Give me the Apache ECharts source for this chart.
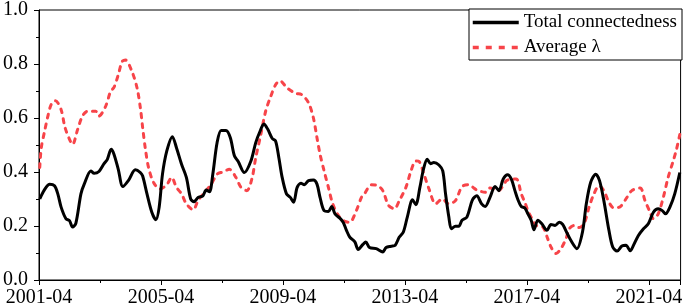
<!DOCTYPE html>
<html>
<head>
<meta charset="utf-8">
<script src="https://cdn.jsdelivr.net/npm/echarts@6/dist/echarts.min.js"></script>
<style>
html,body{margin:0;padding:0;background:#fff;}
#chart{width:685px;height:308px;}
</style>
</head>
<body>
<div id="chart"></div>
<script>
// months counted from 2001-04 (0 = 2001-04)
const startYear = 2001;
const xTickMonths = [0, 48, 96, 144, 192, 240];
const yTicks = [0.0, 0.2, 0.4, 0.6, 0.8, 1.0];
const seriesNames = ['Total connectedness', 'Average \u03bb'];

const totalConnectedness = [
[0.3,0.30],[4.2,0.355],[6.1,0.349],[7.4,0.319],[8.7,0.27],[10.6,0.227],[12.0,0.22],[13.2,0.196],[14.5,0.21],
[16.5,0.319],[17.8,0.355],[20.4,0.404],[21.7,0.395],[23.6,0.402],[25.6,0.431],[26.9,0.447],[28.4,0.484],
[29.5,0.466],[31.2,0.41],[33.0,0.346],[35.3,0.37],[37.9,0.408],[39.9,0.398],[40.8,0.385],[42.5,0.319],
[44.4,0.251],[46.0,0.223],[47.3,0.27],[48.6,0.392],[50.3,0.478],[52.5,0.531],[54.1,0.49],[56.1,0.429],
[58.0,0.38],[59.7,0.30],[61.0,0.29],[62.6,0.306],[64.5,0.312],[65.8,0.333],[67.1,0.327],[68.4,0.392],
[70.1,0.509],[71.7,0.554],[73.6,0.554],[75.3,0.527],[76.9,0.46],[78.4,0.439],[80.8,0.398],[83.4,0.441],
[85.3,0.509],[87.0,0.551],[88.5,0.578],[90.1,0.557],[91.8,0.524],[93.1,0.515],[94.4,0.453],[95.7,0.38],
[97.4,0.319],[98.9,0.306],[100.2,0.288],[101.6,0.343],[103.1,0.358],[104.4,0.353],[106.1,0.368],[108.0,0.37],
[109.4,0.355],[110.6,0.306],[112.2,0.257],[113.9,0.254],[115.2,0.272],[116.5,0.245],[118.4,0.229],[119.7,0.214],
[121.0,0.184],[122.3,0.159],[124.3,0.141],[125.6,0.113],[127.5,0.132],[128.6,0.141],[130.1,0.12],[132.7,0.116],
[135.3,0.104],[136.6,0.12],[138.6,0.125],[140.2,0.129],[141.8,0.159],[143.4,0.178],[145.0,0.235],[147.0,0.297],
[148.3,0.279],[149.9,0.343],[151.3,0.41],[152.8,0.447],[154.1,0.431],[155.4,0.435],[157.4,0.426],[158.9,0.404],
[160.0,0.319],[161.3,0.233],[162.3,0.19],[163.9,0.199],[165.2,0.199],[166.5,0.221],[168.4,0.233],[170.6,0.297],
[172.3,0.312],[174.2,0.282],[175.6,0.272],[177.5,0.306],[179.5,0.346],[181.0,0.331],[182.7,0.374],[184.4,0.39],
[185.9,0.374],[187.3,0.331],[188.5,0.297],[189.8,0.272],[191.2,0.267],[192.4,0.245],[193.7,0.221],[194.8,0.186],
[196.3,0.221],[197.9,0.208],[199.9,0.184],[201.5,0.206],[203.1,0.202],[204.8,0.214],[206.1,0.206],[207.8,0.174],
[209.3,0.147],[211.7,0.116],[213.9,0.178],[215.4,0.282],[217.1,0.361],[219.1,0.392],[220.6,0.368],[222.3,0.294],
[224.3,0.184],[225.8,0.122],[227.5,0.107],[229.4,0.126],[231.0,0.129],[232.7,0.108],[234.0,0.129],[235.9,0.165],
[237.9,0.19],[239.8,0.208],[241.8,0.251],[243.7,0.264],[245.3,0.257],[246.6,0.245],[248.3,0.27],[250.2,0.319],
[252.2,0.398]
];

const averageLambda = [
[0.3,0.417],[0.9,0.49],[2.2,0.551],[3.5,0.607],[4.8,0.65],[6.5,0.664],[8.7,0.631],[10.2,0.566],[12.0,0.521],
[13.2,0.502],[15.2,0.557],[17.1,0.607],[19.1,0.625],[22.3,0.625],[23.6,0.607],[26.2,0.643],[28.2,0.699],
[29.5,0.713],[31.2,0.76],[32.7,0.809],[34.0,0.815],[36.6,0.772],[38.6,0.711],[39.9,0.637],[40.8,0.564],
[41.8,0.49],[43.1,0.417],[45.1,0.361],[47.6,0.337],[50.3,0.353],[52.2,0.38],[54.1,0.343],[56.1,0.319],
[58.0,0.282],[60.7,0.26],[62.6,0.294],[65.2,0.325],[67.8,0.355],[70.1,0.392],[72.3,0.40],[74.9,0.41],
[77.5,0.38],[79.5,0.343],[81.8,0.331],[83.8,0.375],[85.3,0.453],[87.3,0.539],[89.2,0.625],[91.2,0.68],
[93.1,0.723],[94.8,0.738],[97.7,0.711],[100.9,0.692],[103.5,0.686],[106.1,0.656],[108.0,0.60],[109.4,0.527],
[110.6,0.466],[112.2,0.404],[113.9,0.343],[115.6,0.282],[117.8,0.239],[120.4,0.217],[122.3,0.214],[124.9,0.257],
[126.9,0.306],[128.2,0.321],[130.8,0.353],[133.4,0.349],[135.3,0.331],[137.6,0.276],[139.9,0.264],[141.8,0.294],
[144.4,0.343],[146.4,0.404],[148.3,0.441],[149.6,0.439],[151.5,0.392],[153.5,0.337],[156.1,0.282],[158.7,0.30],
[161.3,0.282],[163.9,0.294],[166.5,0.346],[169.1,0.353],[171.1,0.341],[172.3,0.333],[175.6,0.325],[177.5,0.341],
[180.8,0.331],[184.0,0.368],[185.9,0.374],[187.9,0.374],[189.8,0.319],[191.2,0.288],[192.4,0.257],[194.0,0.227],
[195.7,0.202],[198.3,0.196],[200.2,0.153],[201.5,0.122],[203.5,0.098],[205.4,0.116],[207.4,0.153],[208.7,0.19],
[210.6,0.202],[212.6,0.194],[214.5,0.208],[216.5,0.27],[218.4,0.319],[220.4,0.349],[222.3,0.331],[224.3,0.288],
[226.2,0.267],[228.8,0.272],[231.4,0.306],[233.3,0.331],[236.6,0.341],[238.5,0.294],[240.5,0.251],[241.8,0.227],
[243.7,0.245],[245.7,0.306],[247.6,0.38],[249.6,0.441],[250.9,0.484],[252.2,0.539]
];

const FONT = "'Liberation Serif', 'Times New Roman', serif";
const RED = '#f74449';
const chart = echarts.init(document.getElementById('chart'), null, {renderer: 'canvas'});
chart.setOption({
  animation: false,
  backgroundColor: '#fff',
  grid: {left: 36, right: 1, top: 8, bottom: 28, show: true, borderColor: '#000', borderWidth: 1, backgroundColor: 'transparent'},
  legend: {
    orient: 'vertical', left: 469, top: 9,
    padding: [4, 5, 3, 2], itemGap: 6, itemWidth: 46, itemHeight: 14,
    borderColor: '#000', borderWidth: 1, backgroundColor: '#fff',
    textStyle: {fontFamily: FONT, fontSize: 19, color: '#000'},
    itemStyle: {color: 'rgba(0,0,0,0)', borderWidth: 0, opacity: 0},
    data: [
      {name: seriesNames[0], lineStyle: {color: '#000', width: 3.5}},
      {name: seriesNames[1], lineStyle: {color: RED, width: 3.5, type: [6, 7], cap: 'butt'}}
    ]
  },
  xAxis: {
    type: 'value', min: 0, max: 252.5, interval: 48,
    axisLine: {lineStyle: {color: '#000', width: 1}},
    axisTick: {length: 5, lineStyle: {color: '#000'}},
    minorTick: {show: true, splitNumber: 2, length: 3, lineStyle: {color: '#000'}},
    splitLine: {show: false},
    axisLabel: {
      margin: 8, fontFamily: FONT, fontSize: 20, color: '#000',
      formatter: v => xTickMonths.includes(v) ? (startYear + v / 12) + '-04' : ''
    }
  },
  yAxis: {
    type: 'value', min: yTicks[0], max: yTicks[yTicks.length - 1], interval: 0.2,
    axisLine: {show: true, lineStyle: {color: '#000', width: 1}},
    axisTick: {show: true, length: 5, lineStyle: {color: '#000'}},
    minorTick: {show: true, splitNumber: 2, length: 3, lineStyle: {color: '#000'}},
    splitLine: {show: false},
    axisLabel: {margin: 11, fontFamily: FONT, fontSize: 20, color: '#000', formatter: v => v.toFixed(1)}
  },
  series: [
    {
      name: seriesNames[0], type: 'line', data: totalConnectedness, smooth: 0.3,
      showSymbol: false, symbol: 'none', z: 3,
      lineStyle: {color: '#000', width: 3}, itemStyle: {color: '#000'}
    },
    {
      name: seriesNames[1], type: 'line', data: averageLambda, smooth: 0.3,
      showSymbol: false, symbol: 'none', z: 2,
      lineStyle: {color: RED, width: 3, type: [4, 6], cap: 'round'}, itemStyle: {color: RED}
    }
  ]
});
</script>
</body>
</html>
